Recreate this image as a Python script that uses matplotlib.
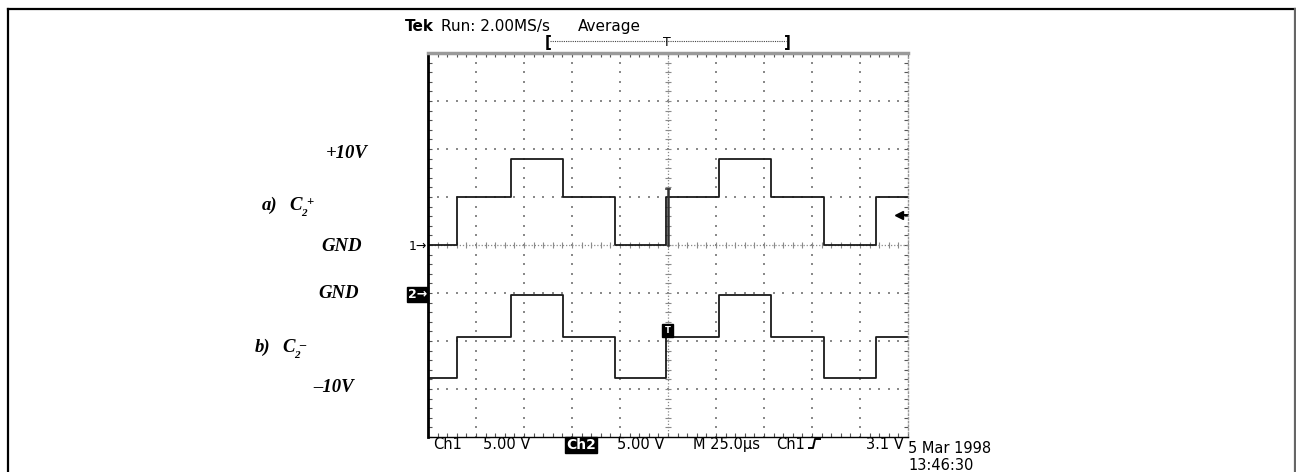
import numpy as np
import matplotlib.pyplot as plt
from matplotlib.patches import Rectangle
from matplotlib.lines import Line2D

# scope settings, time in microseconds, volts
volts_per_div = 5.0
us_per_div = 25.0
trig_level = 3.1

# switching instants (µs, trigger at 0) and levels between them
edges_us = [-109.9, -81.8, -54.7, -27.6, -1.0, 26.6, 53.6, 81.2, 108.4]
ch1_v = [0.0, 4.95, 8.95, 4.95, 0.0, 4.95, 8.95, 4.95, 0.0, 4.95]
ch2_v = [-8.85, -4.6, -0.2, -4.6, -8.85, -4.6, -0.2, -4.6, -8.85, -4.6]
ch1_spike_v = 5.85
ch2_offset_div = -1.0

W, H = 1296, 472
fig = plt.figure(figsize=(W / 100, H / 100), dpi=100)


def fx(x):
    return x / W


def fy(y):
    return 1 - y / H


# outer frame (left, top, right)
fig.add_artist(Line2D([fx(8), fx(8)], [0, fy(9)], color='black', lw=1.6))
fig.add_artist(Line2D([fx(8), fx(1295)], [fy(9), fy(9)], color='black', lw=1.6))
fig.add_artist(Line2D([fx(1295), fx(1295)], [0, fy(9)], color='#666666', lw=1.6))

ax = fig.add_axes([fx(428), fy(437), fx(908) - fx(428), fy(53) - fy(437)])
ax.set_xlim(-5 * us_per_div, 5 * us_per_div)
ax.set_ylim(-4, 4)

# graticule dots
grey = '#8a8a8a'
ys = np.arange(-4, 4.01, 0.2)
xs = np.arange(-125, 125.1, 5)
for gx in np.arange(-100, 101, 25):
    if gx == 0:
        continue
    ax.scatter(np.full_like(ys, gx), ys, s=1.2, marker='s', color=grey, lw=0)
for gy in range(-3, 4):
    if gy == 0:
        continue
    ax.scatter(xs, np.full_like(xs, gy), s=1.2, marker='s', color=grey, lw=0)

# center cross with ticks
ax.plot([-125, 125], [0, 0], color=grey, lw=0.9, ls=(0, (1, 1.5)))
ax.plot([0, 0], [-4, 4], color=grey, lw=0.9, ls=(0, (1, 1.5)))
ax.scatter(xs, np.zeros_like(xs), marker='|', s=22, color=grey, lw=0.8)
ax.scatter(np.zeros_like(ys), ys, marker='_', s=22, color=grey, lw=0.8)

ax.set_xticks(np.arange(-125, 126, 5))
ax.set_yticks(np.arange(-4, 4.01, 0.2))
ax.tick_params(axis='both', direction='in', length=3, width=0.8, colors='#555555',
               labelbottom=False, labelleft=False, top=True, right=True)
ax.spines['left'].set_linewidth(2)
ax.spines['left'].set_color('black')
ax.spines['top'].set_linewidth(2.5)
ax.spines['top'].set_color('#9a9a9a')
ax.spines['bottom'].set_linewidth(1)
ax.spines['bottom'].set_color('black')
ax.spines['right'].set_linewidth(1)
ax.spines['right'].set_color('#999999')
ax.spines['right'].set_linestyle(':')

# traces
t = [-125] + edges_us + [125]
y1 = [v / volts_per_div for v in ch1_v] + [ch1_v[-1] / volts_per_div]
y2 = [v / volts_per_div + ch2_offset_div for v in ch2_v] + [ch2_v[-1] / volts_per_div + ch2_offset_div]
ax.plot(t, y1, drawstyle='steps-post', color='#1a1a1a', lw=1.3)
ax.plot(t, y2, drawstyle='steps-post', color='#1a1a1a', lw=1.3)

# trigger marks on the traces
ax.plot([0, 0], [0, ch1_spike_v / volts_per_div], color='#333333', lw=1.8)
ax.plot([-1.2, 1.2], [ch1_spike_v / volts_per_div] * 2, color='#333333', lw=1.2)
ax.add_patch(Rectangle((-3.0, -1.92), 5.8, 0.27, color='black', zorder=5))
ax.text(-0.1, -1.785, 'T', color='white', fontsize=6, ha='center', va='center',
        fontweight='bold', zorder=6)
ax.plot([121, 125], [trig_level / volts_per_div] * 2, color='black', lw=1.4, clip_on=False)
ax.plot([120.5], [trig_level / volts_per_div], marker='<', ms=6, color='black', clip_on=False)

# header
sans = 'DejaVu Sans'
fig.text(fx(405), fy(31), 'Tek', fontsize=11, fontweight='bold', family=sans)
fig.text(fx(441), fy(31), 'Run: 2.00MS/s', fontsize=11, family=sans)
fig.text(fx(578), fy(31), 'Average', fontsize=11, family=sans)
fig.add_artist(Line2D([fx(550), fx(786)], [fy(41), fy(41)], color='#444444', lw=0.8, ls=(0, (1, 1))))
fig.text(fx(548), fy(43), '[', fontsize=11, family=sans, ha='center', va='center', fontweight='bold')
fig.text(fx(787), fy(43), ']', fontsize=11, family=sans, ha='center', va='center', fontweight='bold')
fig.text(fx(667), fy(43), 'T', fontsize=9, family=sans, ha='center', va='center')

# channel markers
fig.text(fx(427), fy(250), '1\u2192', fontsize=9, family=sans, ha='right')
fig.text(fx(427), fy(298), '2\u2192', fontsize=9, family=sans, ha='right', color='white',
         fontweight='bold', bbox=dict(boxstyle='square,pad=0.1', fc='black', ec='black'))

# left labels
serif = dict(family='Liberation Serif', fontweight='bold', style='italic')
fig.text(fx(326), fy(158), '+10V', fontsize=13.5, **serif)
fig.text(fx(262), fy(210), 'a)', fontsize=13.5, **serif)
fig.text(fx(289), fy(210), 'C', fontsize=13.5, **serif)
fig.text(fx(301), fy(216), '2', fontsize=8, **serif)
fig.text(fx(306), fy(205), '+', fontsize=9, **serif)
fig.text(fx(321), fy(251), 'GND', fontsize=13.5, **serif)
fig.text(fx(318), fy(298), 'GND', fontsize=13.5, **serif)
fig.text(fx(255), fy(352), 'b)', fontsize=13.5, **serif)
fig.text(fx(282), fy(352), 'C', fontsize=13.5, **serif)
fig.text(fx(294), fy(358), '2', fontsize=8, **serif)
fig.text(fx(299), fy(348), '\u2013', fontsize=9, **serif)
fig.text(fx(313), fy(392), '\u201310V', fontsize=13.5, **serif)

# footer
fs = 10.5
fig.text(fx(433), fy(449), 'Ch1', fontsize=fs, family=sans)
fig.text(fx(483), fy(449), '5.00 V', fontsize=fs, family=sans)
fig.text(fx(566), fy(449), 'Ch2', fontsize=fs - 0.5, family=sans, color='white', fontweight='bold',
         bbox=dict(boxstyle='square,pad=0.05', fc='black', ec='black'))
fig.text(fx(617), fy(449), '5.00 V', fontsize=fs, family=sans)
fig.text(fx(693), fy(449), 'M 25.0\u00b5s', fontsize=fs, family=sans)
fig.text(fx(776), fy(449), 'Ch1', fontsize=fs, family=sans)
fig.add_artist(Line2D([fx(809), fx(813), fx(815), fx(820)],
                      [fy(448), fy(448), fy(439), fy(439)], color='black', lw=1.4))
fig.text(fx(866), fy(449), '3.1 V', fontsize=fs, family=sans)
fig.text(fx(908), fy(453), '5 Mar 1998', fontsize=fs, family=sans)
fig.text(fx(908), fy(470), '13:46:30', fontsize=fs, family=sans)

fig.savefig('out.png', dpi=100)
